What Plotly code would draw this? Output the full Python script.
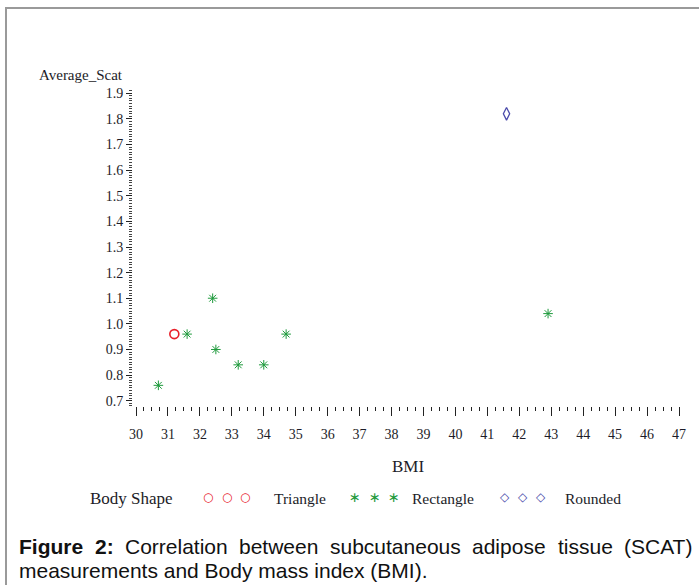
import plotly.graph_objects as go

# ---- data ----
triangle_bmi = [31.2]
triangle_scat = [0.96]

rectangle_bmi = [30.7, 31.6, 32.4, 32.5, 33.2, 34.0, 34.7, 42.9]
rectangle_scat = [0.76, 0.96, 1.10, 0.90, 0.84, 0.84, 0.96, 1.04]

rounded_bmi = [41.6]
rounded_scat = [1.82]

x_tick_vals = list(range(30, 48))
y_tick_vals = [0.7, 0.8, 0.9, 1.0, 1.1, 1.2, 1.3, 1.4, 1.5, 1.6, 1.7, 1.8, 1.9]
y_tick_text = ["0.7", "0.8", "0.9", "1.0", "1.1", "1.2", "1.3", "1.4", "1.5", "1.6", "1.7", "1.8", "1.9"]

legend_names = ["Triangle", "Rectangle", "Rounded"]
legend_glyphs = ["○", "∗", "◇"]

caption_line1 = ["Figure", "2:", "Correlation", "between", "subcutaneous", "adipose", "tissue", "(SCAT)"]
caption_line2 = "measurements and Body mass index (BMI)."

# ---- layout constants (pixels) ----
WIDTH, HEIGHT = 699, 585
L, R, T, B = 133, 683, 90, 406
PW, PH = R - L, B - T

RED = "#e8202a"
GREEN = "#1e9a3c"
BLUE = "#4a4aaa"
TXT = "#1c1c28"
SERIF = "Liberation Serif, Times New Roman, serif"
SANS = "Liberation Sans, Arial, sans-serif"
CAP_SIZE = 21

# Arial / Liberation Sans advance widths (per 1000 em) for justifying line 1
REG_W = {'C': 722, 'o': 556, 'r': 333, 'e': 556, 'l': 222, 'a': 556, 't': 278, 'i': 222,
         'n': 556, 'b': 556, 'w': 722, 's': 500, 'u': 556, 'c': 500, 'd': 556, 'p': 556,
         '(': 333, ')': 333, 'S': 667, 'A': 667, 'T': 611}
BOLD_W = {'F': 611, 'i': 278, 'g': 611, 'u': 611, 'r': 389, 'e': 556, '2': 556, ':': 333}


def px(xp):
    return (xp - L) / PW


def py(yp):
    return (B - yp) / PH


fig = go.Figure()
fig.add_trace(go.Scatter(x=triangle_bmi, y=triangle_scat, mode="markers", name="Triangle",
                         marker=dict(symbol="circle-open", size=9, color=RED, line=dict(width=1.6, color=RED))))
fig.add_trace(go.Scatter(x=rectangle_bmi, y=rectangle_scat, mode="markers", name="Rectangle",
                         marker=dict(symbol="asterisk-open", size=8, color=GREEN, line=dict(width=1.0, color=GREEN))))
fig.add_trace(go.Scatter(x=rounded_bmi, y=rounded_scat, mode="markers", name="Rounded",
                         marker=dict(symbol="diamond-tall-open", size=9, color=BLUE, line=dict(width=1.3, color=BLUE))))

annotations = []
# y-axis title
annotations.append(dict(x=px(37), y=py(75), xref="paper", yref="paper", text="Average_Scat",
                        showarrow=False, xanchor="left", yanchor="middle",
                        font=dict(family=SERIF, size=15, color=TXT)))
# x-axis title
annotations.append(dict(x=px(408), y=py(466), xref="paper", yref="paper", text="BMI",
                        showarrow=False, xanchor="center", yanchor="middle",
                        font=dict(family=SERIF, size=17, color=TXT)))
# legend
annotations.append(dict(x=px(88), y=py(498), xref="paper", yref="paper", text="Body Shape",
                        showarrow=False, xanchor="left", yanchor="middle",
                        font=dict(family=SERIF, size=17, color=TXT)))
glyph_x = [[208, 227, 245], [355, 375, 394], [505, 523, 541]]
glyph_col = [RED, GREEN, BLUE]
glyph_size = [12, 14, 12]
name_x = [272, 410, 563]
for gxs, gc, g, gs, nx, n in zip(glyph_x, glyph_col, legend_glyphs, glyph_size, name_x, legend_names):
    for gx in gxs:
        annotations.append(dict(x=px(gx), y=py(497), xref="paper", yref="paper", text=g,
                                showarrow=False, xanchor="center", yanchor="middle",
                                font=dict(family="DejaVu Sans", size=gs, color=gc)))
    annotations.append(dict(x=px(nx), y=py(498), xref="paper", yref="paper", text=n,
                            showarrow=False, xanchor="left", yanchor="middle",
                            font=dict(family=SERIF, size=15.5, color=TXT)))

# caption line 1: justified between x=17 and x=692
widths = []
for i, w in enumerate(caption_line1):
    tbl = BOLD_W if i < 2 else REG_W
    widths.append(sum(tbl.get(ch, 556) for ch in w) * CAP_SIZE / 1000.0)
x_left, x_right = 17.0, 692.0
gap = (x_right - x_left - sum(widths)) / (len(caption_line1) - 1)
cur = x_left
for i, (w, wd) in enumerate(zip(caption_line1, widths)):
    txt = "<b>%s</b>" % w if i < 2 else w
    annotations.append(dict(x=px(cur), y=py(546), xref="paper", yref="paper", text=txt,
                            showarrow=False, xanchor="left", yanchor="middle",
                            font=dict(family=SANS, size=CAP_SIZE, color="#111111")))
    cur += wd + gap
annotations.append(dict(x=px(17), y=py(570), xref="paper", yref="paper", text=caption_line2,
                        showarrow=False, xanchor="left", yanchor="middle",
                        font=dict(family=SANS, size=CAP_SIZE, color="#111111")))

shapes = [
    dict(type="line", xref="paper", yref="paper", x0=px(5), x1=px(710), y0=py(8), y1=py(8),
         line=dict(color="#9a9a9a", width=2)),
    dict(type="line", xref="paper", yref="paper", x0=px(6), x1=px(6), y0=py(8), y1=py(600),
         line=dict(color="#9a9a9a", width=2)),
]

fig.update_layout(
    width=WIDTH, height=HEIGHT,
    margin=dict(l=L, r=WIDTH - R, t=T, b=HEIGHT - B, pad=0),
    paper_bgcolor="white", plot_bgcolor="white",
    showlegend=False,
    annotations=annotations,
    shapes=shapes,
    xaxis=dict(range=[29.906, 47.125], showgrid=False, zeroline=False, showline=False,
               tickmode="array", tickvals=x_tick_vals, ticks="outside", ticklen=9, tickwidth=1,
               tickcolor="#222", ticklabelstandoff=6,
               tickfont=dict(family=SERIF, size=14, color=TXT),
               minor=dict(tickmode="linear", tick0=30, dtick=0.25, ticks="outside", ticklen=4,
                          tickwidth=1, tickcolor="#222", showgrid=False)),
    yaxis=dict(range=[0.6793, 1.9129], showgrid=False, zeroline=False, showline=False,
               tickmode="array", tickvals=y_tick_vals, ticktext=y_tick_text, ticks="outside",
               ticklen=6, tickwidth=1, tickcolor="#222",
               tickfont=dict(family=SERIF, size=14, color=TXT),
               minor=dict(tickmode="linear", tick0=0.7, dtick=0.01, ticks="outside", ticklen=3,
                          tickwidth=1, tickcolor="#444", showgrid=False)),
)

fig.write_html("out.html", config={"displayModeBar": False},
               post_script="document.body.style.margin='0px';document.body.style.overflow='hidden';")
